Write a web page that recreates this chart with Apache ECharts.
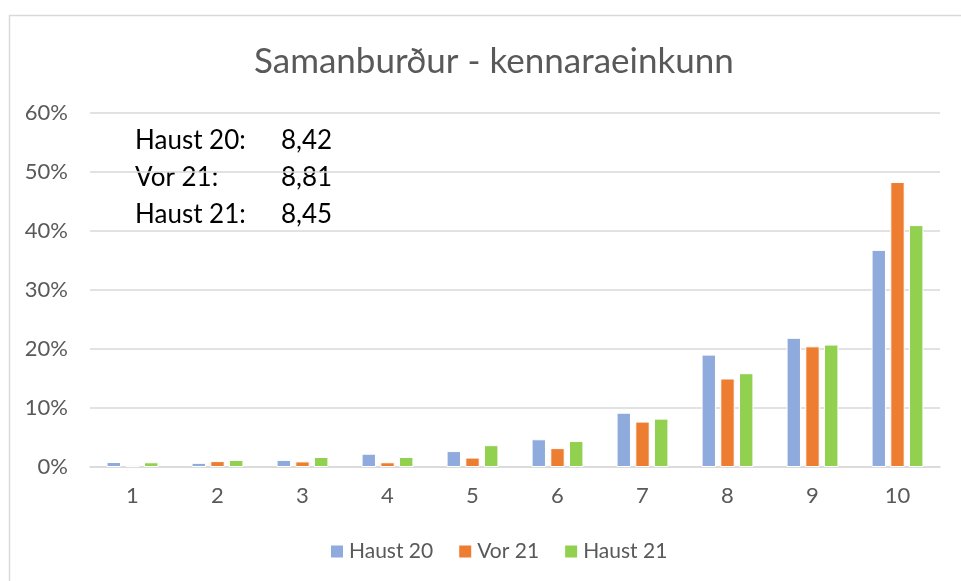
<!DOCTYPE html>
<html>
<head>
<meta charset="utf-8">
<script src="https://cdn.jsdelivr.net/npm/echarts@6/dist/echarts.min.js"></script>
<style>
    html, body { margin: 0; padding: 0; background: #fff; }
    #chart { width: 961px; height: 581px; }
</style>
</head>
<body>
<div id="chart"></div>
<script>
    // einkunnir 1-10
    var categories = ['1', '2', '3', '4', '5', '6', '7', '8', '9', '10']
    var haust20 = [0.85, 0.7, 1.2, 2.25, 2.7, 4.7, 9.2, 19.05, 21.9, 36.8]
    var vor21 = [0.35, 1.0, 0.95, 0.8, 1.6, 3.2, 7.7, 15.0, 20.45, 48.3]
    var haust21 = [0.8, 1.2, 1.7, 1.7, 3.7, 4.4, 8.2, 15.9, 20.75, 41.0]
    var averages = [['Haust 20:', '8,42'], ['Vor 21:', '8,81'], ['Haust 21:', '8,45']]

    var font = 'Lato, "Open Sans", sans-serif'
    var chart = echarts.init(document.getElementById('chart'))

    var avgText = []
    averages.forEach(function (row, i) {
        avgText.push({
            type: 'text', left: 135, top: 128 + i * 37,
            style: {text: row[0], fill: '#000', font: '26px ' + font}
        })
        avgText.push({
            type: 'text', left: 281, top: 128 + i * 37,
            style: {text: row[1], fill: '#000', font: '26px ' + font}
        })
    })

    function bar(name, data, color) {
        return {
            name: name,
            type: 'bar',
            data: data,
            barGap: '30%',
            barCategoryGap: '39%',
            itemStyle: {color: color, borderColor: '#fff', borderWidth: 1}
        }
    }

    chart.setOption({
        animation: false,
        title: {
            text: 'Samanburður - kennaraeinkunn',
            left: 249,
            top: 39,
            textStyle: {fontFamily: font, fontSize: 35, fontWeight: 'normal', color: '#595959'}
        },
        legend: {
            bottom: 14,
            left: 324,
            itemWidth: 14,
            itemHeight: 14,
            itemGap: 24,
            icon: 'rect',
            textStyle: {fontFamily: font, fontSize: 21, color: '#595959'},
            data: ['Haust 20', 'Vor 21', 'Haust 21']
        },
        grid: {
            left: 90,
            right: 21,
            top: 113,
            bottom: 114
        },
        xAxis: {
            type: 'category',
            data: categories,
            axisLine: {lineStyle: {color: '#d9d9d9', width: 1.5}},
            axisTick: {show: false},
            axisLabel: {fontFamily: font, fontSize: 22, color: '#595959', margin: 18}
        },
        yAxis: {
            type: 'value',
            min: 0,
            max: 60,
            interval: 10,
            axisLine: {show: false},
            axisTick: {show: false},
            axisLabel: {fontFamily: font, fontSize: 22, color: '#595959', margin: 22, formatter: '{value}%'},
            splitLine: {lineStyle: {color: '#d9d9d9', width: 1.5}}
        },
        graphic: [{
            type: 'rect',
            shape: {x: 9.5, y: 15.5, width: 980, height: 600},
            style: {fill: 'none', stroke: '#d9d9d9', lineWidth: 1.5},
            silent: true
        }].concat(avgText),
        series: [
            bar('Haust 20', haust20, '#8faadc'),
            bar('Vor 21', vor21, '#ed7d31'),
            bar('Haust 21', haust21, '#92d050')
        ]
    })
</script>
</body>
</html>
